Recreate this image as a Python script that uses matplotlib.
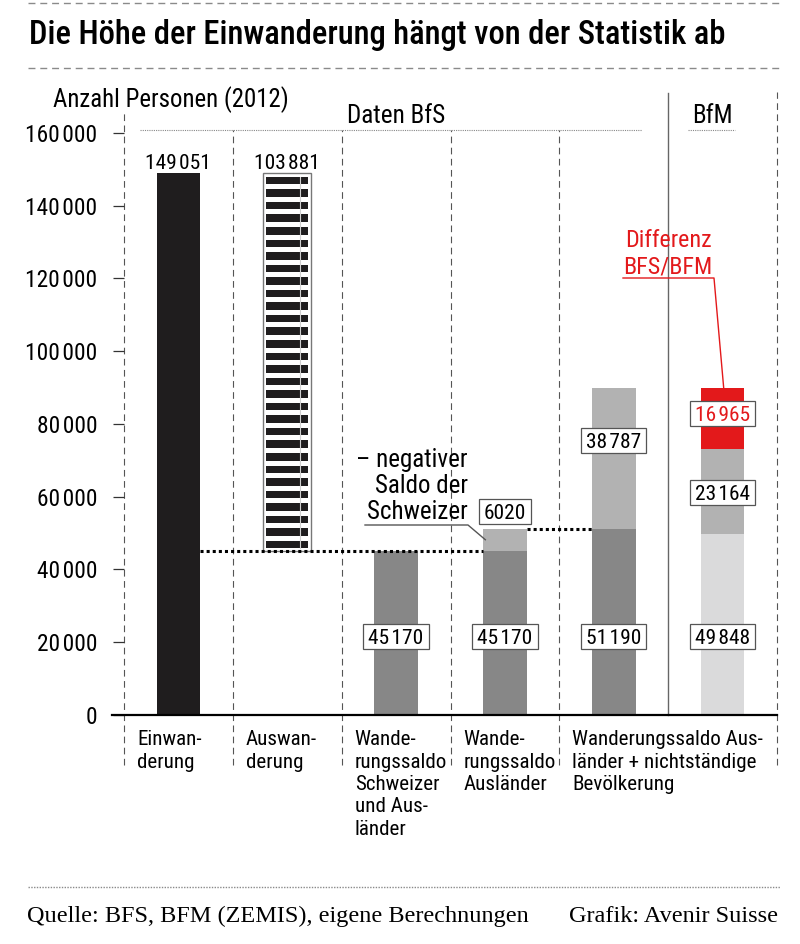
import os
import matplotlib
matplotlib.use("Agg")
import matplotlib.pyplot as plt
from matplotlib import font_manager
from matplotlib.font_manager import FontProperties
from matplotlib.ft2font import FT2Font
from matplotlib.patches import Rectangle
import numpy as np

# ---------------- data ----------------
category_labels = [
    "Einwan-\nderung",
    "Auswan-\nderung",
    "Wande-\nrungssaldo\nSchweizer\nund Aus-\nländer",
    "Wande-\nrungssaldo\nAusländer",
    "Wanderungssaldo Aus-\nländer + nichtständige\nBevölkerung",
]
einwanderung = 149051
auswanderung = 103881
saldo_total = 45170          # Wanderungssaldo Schweizer und Ausländer
negativ_saldo_ch = 6020      # negativer Saldo der Schweizer
saldo_auslaender = 51190
nichtstaendige = 38787
bfm_saldo = 49848
bfm_mid = 23164
bfm_differenz = 16965
y_ticks = [0, 20000, 40000, 60000, 80000, 100000, 120000, 140000, 160000]

title = "Die Höhe der Einwanderung hängt von der Statistik ab"
ylabel = "Anzahl Personen (2012)"
header_bfs = "Daten BfS"
header_bfm = "BfM"
note_neg = ["\u2013 negativer", "Saldo der", "Schweizer"]
note_diff = ["Differenz", "BFS/BFM"]
source = "Quelle: BFS, BFM (ZEMIS), eigene Berechnungen"
credit = "Grafik: Avenir Suisse"

# ---------------- fonts ----------------
_paths = {os.path.basename(f.fname).lower(): f.fname for f in font_manager.fontManager.ttflist}

def _pick(files):
    for fn in files:
        if fn.lower() in _paths:
            return _paths[fn.lower()]
    return None

REG = _pick(["RobotoCondensed-Regular.ttf", "NotoSans-Condensed.ttf", "NotoSans-CondensedRegular.ttf",
             "LiberationSansNarrow-Regular.ttf", "DejaVuSansCondensed.ttf"])
BOLD = _pick(["RobotoCondensed-Medium.ttf", "RobotoCondensed-Bold.ttf", "NotoSans-CondensedMedium.ttf",
              "NotoSans-CondensedSemiBold.ttf", "LiberationSansNarrow-Bold.ttf",
              "DejaVuSansCondensed-Bold.ttf"])

def FP(size, bold=False, serif=False):
    if serif:
        return FontProperties(family=["Liberation Serif", "DejaVu Serif"], size=size)
    path = BOLD if bold else REG
    if path:
        return FontProperties(fname=path, size=size)
    return FontProperties(family="DejaVu Sans", stretch="condensed",
                          weight="bold" if bold else "normal", size=size)

# narrow digit-group separator (hair space if the font has it)
SEP = "\u2009"
try:
    if REG and FT2Font(REG).get_char_index(0x200A):
        SEP = "\u200a"
except Exception:
    pass

# ---------------- colours ----------------
BLACK = "#1f1d1e"
DARK = "#878787"
LIGHT = "#b2b2b2"
VLIGHT = "#dadadb"
RED = "#e3191b"
LINEGRAY = "#555555"

def fmt(v):
    return f"{v:,}".replace(",", SEP) if v >= 10000 else str(v)

# ---------------- layout ----------------
W, H = 800, 944
Y0 = 715                 # pixel row of value 0
K = 0.003638             # pixels per unit
XL, XR = 124, 777        # pixel columns of axes
YMAX = 172000
TOP = Y0 - YMAX * K
PXX = (XR - XL) / 6

def dx(px):
    return (px - XL) / PXX

def dy(py):
    return (Y0 - py) / K

fig = plt.figure(figsize=(W / 100, H / 100), dpi=100)
renderer = fig.canvas.get_renderer()

def textw(s, fp):
    w, _, _ = renderer.get_text_width_height_descent(s, fp, ismath=False)
    return w

def fit(s, target, bold=False, serif=False):
    return FP(10 * target / textw(s, FP(10, bold, serif)), bold, serif)

F_TICK = FP(16.8)
F_VAL = FP(15.4)
F_YLAB = fit(ylabel, 235)
F_HEAD = fit(header_bfs, 98)
F_TITLE = fit(title, 695, bold=True)
F_NOTE = fit("Schweizer", 100)
F_DIFF = fit("BFS/BFM", 90)
F_CAT = fit("Wanderungssaldo Aus-", 190)
F_FOOT = fit(source, 501, serif=True)

ax = fig.add_axes([XL / W, (H - Y0) / H, (XR - XL) / W, (Y0 - TOP) / H])
ax.set_xlim(0, 6)
ax.set_ylim(0, YMAX)
for s in ax.spines.values():
    s.set_visible(False)
ax.set_xticks([])
ax.set_yticks(y_ticks)
ax.set_yticklabels([fmt(v) if v else "0" for v in y_ticks])
for t in ax.get_yticklabels():
    t.set_fontproperties(F_TICK)
ax.tick_params(axis="y", length=8, width=0.9, color="#333333", pad=11)

BW = 0.4
centers = np.arange(6) + 0.5

# bars
ax.bar(centers[0], einwanderung, BW, color=BLACK, zorder=2)

# Auswanderung: striped floating bar
ax.bar(centers[1], auswanderung, 0.44, bottom=saldo_total, facecolor="white",
       edgecolor="#777777", linewidth=1.0, zorder=2)
n_str = 30
m_bot, m_top = 600, 1100
period = (auswanderung - m_bot - m_top) / (n_str - 0.4)
bottoms = saldo_total + m_bot + np.arange(n_str) * period
ax.bar(np.full(n_str, centers[1]), np.full(n_str, 0.6 * period), 0.39,
       bottom=bottoms, color=BLACK, linewidth=0, zorder=3)
ax.plot([centers[1] - 0.195 + 0.81 * 0.39] * 2,
        [saldo_total + m_bot, saldo_total + auswanderung - m_top],
        color="#d0d0d0", lw=0.8, zorder=4)

ax.bar(centers[2], saldo_total, BW, color=DARK, zorder=2)

ax.bar(centers[3], saldo_total, BW, color=DARK, zorder=2)
ax.bar(centers[3], negativ_saldo_ch, BW, bottom=saldo_total, color=LIGHT, zorder=2)

ax.bar(centers[4], saldo_auslaender, BW, color=DARK, zorder=2)
ax.bar(centers[4], nichtstaendige, BW, bottom=saldo_auslaender, color=LIGHT, zorder=2)

ax.bar(centers[5], bfm_saldo, BW, color=VLIGHT, zorder=2)
ax.bar(centers[5], bfm_mid, BW, bottom=bfm_saldo, color=LIGHT, zorder=2)
ax.bar(centers[5], bfm_differenz, BW, bottom=bfm_saldo + bfm_mid, color=RED, zorder=2)

# dotted connectors
ax.plot([centers[0] + BW / 2, centers[3] - BW / 2], [saldo_total] * 2, color="black",
        lw=2.2, ls=(0, (1, 1)), zorder=5)
ax.plot([centers[3] + BW / 2, centers[4] - BW / 2], [saldo_auslaender] * 2, color="black",
        lw=2.2, ls=(0, (1, 1)), zorder=5)

# separators
below = dy(765)
dash = (0, (6, 4))
ax.plot([0, 0], [below, dy(112)], color="#555555", lw=0.8, ls=dash, clip_on=False, zorder=1)
for xs in [1, 2, 3, 4]:
    ax.plot([xs, xs], [below, dy(130)], color="#555555", lw=0.8, ls=dash, clip_on=False, zorder=1)
ax.plot([6, 6], [below, dy(92)], color="#555555", lw=0.8, ls=dash, clip_on=False, zorder=1)
ax.plot([5, 5], [0, dy(93)], color="#666666", lw=1.0, clip_on=False, zorder=1)

# axis baseline
ax.plot([dx(112), 6], [0, 0], color="black", lw=1.6, clip_on=False, zorder=6)

# header dotted underlines
ax.plot([dx(140), dx(642)], [dy(130)] * 2, color="#888888", lw=0.8, ls=(0, (1, 1)), clip_on=False)
ax.plot([dx(688), dx(735)], [dy(130)] * 2, color="#888888", lw=0.8, ls=(0, (1, 1)), clip_on=False)
ax.text(dx(396), dy(123), header_bfs, ha="center", va="baseline", fontproperties=F_HEAD)
ax.text(dx(712), dy(123), header_bfm, ha="center", va="baseline", fontproperties=F_HEAD)

# value labels above bars
ax.text(centers[0], dy(169), fmt(einwanderung), ha="center", va="baseline", fontproperties=F_VAL, zorder=7)
ax.text(centers[1], dy(169), fmt(auswanderung), ha="center", va="baseline", fontproperties=F_VAL, zorder=7)

# boxed value labels
def boxed(xc, pyc, s, color="black"):
    bw = (textw(s, F_VAL) + 10) / PXX
    bh = 25 / K
    ax.add_patch(Rectangle((xc - bw / 2, dy(pyc) - bh / 2), bw, bh, facecolor="white",
                           edgecolor="#555555", lw=0.9, zorder=7))
    ax.text(xc, dy(pyc + 7.5), s, ha="center", va="baseline", fontproperties=F_VAL,
            color=color, zorder=8)

for c, v in [(centers[2], saldo_total), (centers[3], saldo_total),
             (centers[4], saldo_auslaender), (centers[5], bfm_saldo)]:
    boxed(c, 636, fmt(v))
boxed(centers[3], 511.5, fmt(negativ_saldo_ch))
boxed(centers[4], 440, fmt(nichtstaendige))
boxed(centers[5], 492.5, fmt(bfm_mid))
boxed(centers[5], 413.5, fmt(bfm_differenz), RED)

# annotation: negativer Saldo
for line, yb in zip(note_neg, [467, 493, 519]):
    ax.text(dx(468), dy(yb), line, ha="right", va="baseline", fontproperties=F_NOTE, zorder=7)
ax.plot([dx(365), dx(468), centers[3] - BW / 2 + 0.02],
        [dy(525), dy(525), saldo_total + negativ_saldo_ch / 2],
        color=LINEGRAY, lw=1.0, zorder=7)

# annotation: Differenz
for line, yb in zip(note_diff, [247, 273]):
    ax.text(5.0, dy(yb), line, ha="center", va="baseline", fontproperties=F_DIFF, color=RED, zorder=7)
ax.plot([dx(623), dx(714), centers[5] + 0.01],
        [dy(278), dy(278), bfm_saldo + bfm_mid + bfm_differenz],
        color=RED, lw=1.0, zorder=7)

# category labels (one text per line)
for i, lab in enumerate(category_labels):
    for j, line in enumerate(lab.split("\n")):
        ax.text(i + 0.12, dy(745 + 22.5 * j), line, ha="left", va="baseline",
                fontproperties=F_CAT, clip_on=False)

# figure-level texts
fig.text(53 / W, 1 - 107 / H, ylabel, ha="left", va="baseline", fontproperties=F_YLAB)
fig.text(29 / W, 1 - 44 / H, title, ha="left", va="baseline", fontproperties=F_TITLE)

def hline(y, x0, x1, style, color, lw):
    fig.add_artist(plt.Line2D([x0 / W, x1 / W], [1 - y / H] * 2, color=color, lw=lw, ls=style))

hline(3, 28, 780, (0, (5, 3.5)), "#8a8a8a", 1.0)
hline(68, 28, 780, (0, (5, 3.5)), "#8a8a8a", 1.0)
hline(887, 28, 780, (0, (1, 1)), "#8a8a8a", 1.0)

fig.text(27 / W, 1 - 922 / H, source, ha="left", va="baseline", fontproperties=F_FOOT)
fig.text(778 / W, 1 - 922 / H, credit, ha="right", va="baseline", fontproperties=F_FOOT)

fig.savefig("out.png", dpi=100)
